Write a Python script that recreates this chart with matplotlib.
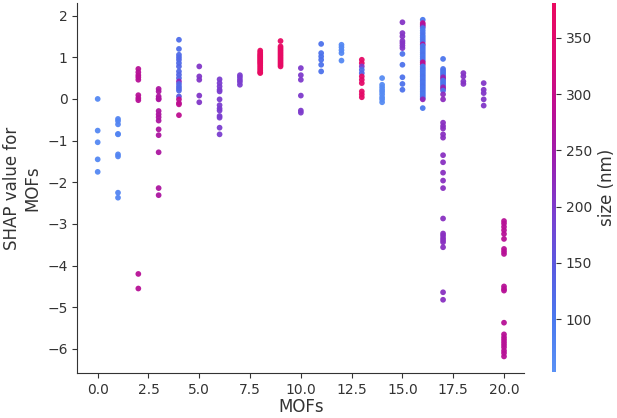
import numpy as np
import matplotlib
matplotlib.use("Agg")
import matplotlib.pyplot as plt
from matplotlib.colors import LinearSegmentedColormap

# SHAP dependence plot: MOFs vs SHAP value, coloured by size (nm)

# one entry per MOFs value: (shap values, size values)
mof_0_shap = [0.0, -0.76, -1.04, -1.45, -1.75]
mof_0_size = [70, 70, 70, 70, 70]
mof_1_shap = [-0.48, -0.53, -0.61, -0.84, -0.85, -1.33, -1.38, -2.25, -2.37]
mof_1_size = [75, 75, 75, 75, 75, 75, 75, 75, 75]
mof_2_shap = [0.72, 0.64, 0.57, 0.52, 0.46, 0.09, 0.02, -0.03, -4.20, -4.55]
mof_2_size = [280, 280, 280, 280, 280, 280, 280, 280, 280, 280]
mof_3_shap = [0.24, 0.18, 0.06, 0.01, -0.01, -0.29, -0.37, -0.44, -0.52, -0.73, -0.87, -1.28, -2.14, -2.31]
mof_3_size = [265, 265, 265, 265, 265, 265, 265, 265, 265, 265, 265, 265, 265, 265]
mof_4_shap = [1.42, 1.20, 1.06, 1.00, 0.94, 0.86, 0.78, 0.66, 0.58, 0.50, 0.42, 0.36, 0.30, 0.25, 0.20,
              0.06, -0.01, -0.10, -0.13, -0.39]
mof_4_size = [115, 115, 120, 120, 125, 120, 125, 125, 130, 125, 230, 125, 120, 125, 120,
              150, 290, 285, 290, 290]
mof_5_shap = [0.78, 0.54, 0.46, 0.08, -0.08]
mof_5_size = [205, 205, 205, 205, 205]
mof_6_shap = [0.47, 0.38, 0.30, 0.22, 0.18, -0.01, -0.15, -0.23, -0.28, -0.41, -0.45, -0.69, -0.85]
mof_6_size = [195, 195, 195, 195, 195, 195, 195, 195, 195, 195, 195, 195, 195]
mof_7_shap = [0.57, 0.52, 0.46, 0.41, 0.34]
mof_7_size = [195, 195, 195, 195, 195]
mof_8_shap = [1.16, 1.12, 1.08, 1.05, 1.02, 0.99, 0.96, 0.93, 0.90, 0.87, 0.84, 0.80, 0.76, 0.72, 0.68, 0.64, 0.62]
mof_8_size = [375, 375, 375, 375, 375, 375, 375, 375, 375, 375, 375, 375, 375, 375, 375, 375, 375]
mof_9_shap = [1.39, 1.26, 1.22, 1.18, 1.14, 1.10, 1.06, 1.02, 0.98, 0.94, 0.90, 0.86, 0.82, 0.78]
mof_9_size = [370, 370, 370, 370, 370, 370, 370, 370, 370, 370, 370, 370, 370, 370]
mof_10_shap = [0.74, 0.57, 0.46, 0.08, -0.28, -0.33]
mof_10_size = [200, 200, 200, 200, 200, 200]
mof_11_shap = [1.32, 1.10, 1.02, 0.94, 0.82, 0.66]
mof_11_size = [110, 110, 110, 110, 110, 110]
mof_12_shap = [1.30, 1.24, 1.17, 1.10, 0.92]
mof_12_size = [70, 70, 70, 70, 70]
mof_13_shap = [0.94, 0.86, 0.78, 0.70, 0.62, 0.54, 0.46, 0.38, 0.18, 0.11, 0.04]
mof_13_size = [365, 360, 200, 120, 130, 360, 355, 360, 365, 360, 365]
mof_14_shap = [0.50, 0.34, 0.28, 0.22, 0.17, 0.11, 0.04, -0.01, -0.08]
mof_14_size = [65, 65, 65, 65, 65, 65, 65, 65, 65]
mof_15_shap = [1.84, 1.58, 1.50, 1.39, 1.34, 1.28, 1.22, 1.08, 0.82, 0.52, 0.36, 0.22]
mof_15_size = [210, 210, 210, 210, 210, 210, 210, 110, 110, 110, 110, 110]
mof_16_shap = [1.90, 1.82, 1.78, 1.74, 1.70, 1.64, 1.58, 1.52, 1.47, 1.42, 1.37, 1.31, 1.27, 1.22,
               1.17, 1.12, 1.07, 1.02, 0.97, 0.92, 0.88, 0.83, 0.78, 0.74, 0.70, 0.66, 0.62, 0.58,
               0.54, 0.50, 0.46, 0.42, 0.38, 0.34, 0.30, 0.26, 0.22, 0.18, 0.14, 0.10, 0.06, 0.02,
               -0.01, -0.22]
mof_16_size = [100, 290, 280, 250, 110, 100, 105, 110, 100, 105, 110, 280, 100, 110,
               105, 100, 110, 100, 105, 100, 290, 280, 100, 105, 110, 100, 105, 100,
               110, 105, 100, 110, 100, 105, 110, 100, 105, 100, 110, 100, 105, 110,
               230, 100]
mof_17_shap = [0.96, 0.72, 0.68, 0.64, 0.60, 0.56, 0.52, 0.48, 0.44, 0.40, 0.36, 0.32, 0.28, 0.24,
               0.20, 0.11, -0.01, -0.57, -0.65, -0.71, -0.85, -0.93, -1.35, -1.52, -1.77, -1.96,
               -2.14, -2.87, -3.23, -3.28, -3.34, -3.39, -3.44, -3.56, -4.64, -4.82]
mof_17_size = [105, 110, 105, 110, 105, 110, 230, 240, 110, 105, 110, 105, 230, 240,
               110, 220, 220, 215, 215, 215, 215, 215, 215, 215, 215, 215,
               215, 215, 215, 215, 215, 215, 215, 215, 215, 215]
mof_18_shap = [0.62, 0.54, 0.42, 0.36]
mof_18_size = [210, 210, 210, 210]
mof_19_shap = [0.38, 0.22, 0.14, -0.01, -0.16]
mof_19_size = [205, 205, 205, 205, 205]
mof_20_shap = [-2.93, -2.99, -3.07, -3.15, -3.24, -3.36, -3.60, -3.66, -3.72, -4.50, -4.56, -4.60,
               -5.37, -5.65, -5.72, -5.78, -5.84, -5.90, -5.96, -6.04, -6.10, -6.18]
mof_20_size = [280, 280, 280, 280, 280, 280, 280, 280, 280, 280, 280, 280,
               280, 280, 280, 280, 280, 280, 280, 280, 280, 280]

shap_cols = [mof_0_shap, mof_1_shap, mof_2_shap, mof_3_shap, mof_4_shap, mof_5_shap, mof_6_shap,
             mof_7_shap, mof_8_shap, mof_9_shap, mof_10_shap, mof_11_shap, mof_12_shap, mof_13_shap,
             mof_14_shap, mof_15_shap, mof_16_shap, mof_17_shap, mof_18_shap, mof_19_shap, mof_20_shap]
size_cols = [mof_0_size, mof_1_size, mof_2_size, mof_3_size, mof_4_size, mof_5_size, mof_6_size,
             mof_7_size, mof_8_size, mof_9_size, mof_10_size, mof_11_size, mof_12_size, mof_13_size,
             mof_14_size, mof_15_size, mof_16_size, mof_17_size, mof_18_size, mof_19_size, mof_20_size]

size_min, size_max = 53, 381
cbar_ticks = [100, 150, 200, 250, 300, 350]

# blue -> purple -> red, close to the rendered shap red_blue
cmap_colors = ["#5a91f5", "#4a78ee", "#5a5ae0", "#7a3fd0", "#9a1fb0", "#bc0e92", "#dc0a72", "#ea0a60"]
red_blue = LinearSegmentedColormap.from_list("red_blue", cmap_colors)

xs, ys, cs = [], [], []
for i, (sv, sz) in enumerate(zip(shap_cols, size_cols)):
    xs += [i] * len(sv)
    ys += sv
    cs += sz

fig = plt.figure(figsize=(6.17, 4.18), dpi=100)
ax = fig.add_axes([0.1254, 0.107, 0.7244, 0.886])
axis_color = "#333333"
sc = ax.scatter(xs, ys, s=17, c=cs, cmap=red_blue, vmin=size_min, vmax=size_max, linewidth=0, alpha=0.95)

ax.set_xlabel("MOFs", fontsize=12, color=axis_color, labelpad=1)
ax.set_ylabel("SHAP value for\nMOFs", fontsize=12, color=axis_color)
ax.spines["top"].set_visible(False)
ax.spines["right"].set_visible(False)
ax.spines["left"].set_color(axis_color)
ax.spines["bottom"].set_color(axis_color)
ax.tick_params(color=axis_color, labelcolor=axis_color, labelsize=10)

cax = fig.add_axes([0.8947, 0.110, 0.0065, 0.883])
cb = fig.colorbar(sc, cax=cax, ticks=cbar_ticks)
cb.solids.set_alpha(1)
cb.outline.set_visible(False)
cb.set_label("size (nm)", fontsize=12, color=axis_color)
cb.ax.tick_params(labelsize=10, color=axis_color, labelcolor=axis_color)

fig.savefig("out.png", dpi=100)
